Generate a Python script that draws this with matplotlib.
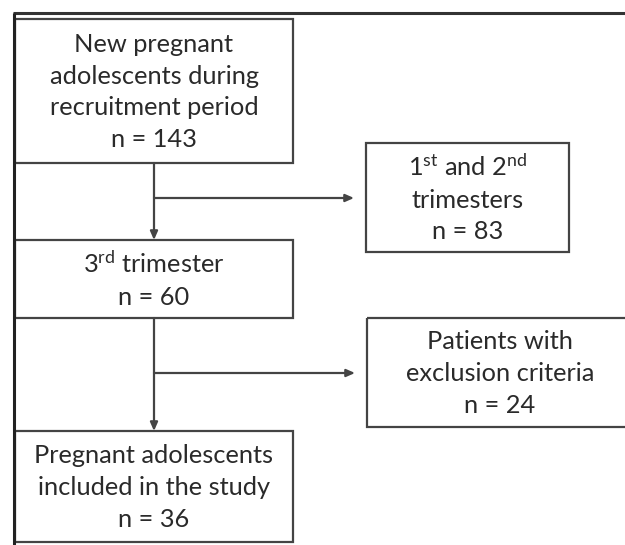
import matplotlib.pyplot as plt
from matplotlib.patches import Rectangle

plt.rcParams['font.family'] = ['Lato', 'DejaVu Sans']
plt.rcParams['mathtext.default'] = 'regular'

# flow chart content
main_labels = [
    "New pregnant\nadolescents during\nrecruitment period",
    "3$^{rd}$ trimester",
    "Pregnant adolescents\nincluded in the study",
]
main_n = [143, 60, 36]
side_labels = [
    "1$^{st}$ and 2$^{nd}$\ntrimesters",
    "Patients with\nexclusion criteria",
]
side_n = [83, 24]

# layout in pixels (x0, y0, x1, y1), y going down
main_boxes = [(15, 19, 293, 163), (15, 240, 293, 318), (15, 431, 293, 542)]
side_boxes = [(366, 143, 569, 252), (367, 318, 640, 427)]
branch_y = [198, 373]

line_col = '#444444'
text_col = '#2a2a2a'

fig = plt.figure(figsize=(6.25, 5.45), dpi=100)
ax = fig.add_axes([0, 0, 1, 1])
ax.set_xlim(0, 625)
ax.set_ylim(545, 0)
ax.axis('off')

# outer frame (top and left edge)
ax.plot([13, 625], [13, 13], color='#333333', lw=2.2, solid_capstyle='butt')
ax.plot([13.5, 13.5], [13, 545], color='#222222', lw=2.2, solid_capstyle='butt')


def box(b, text, n):
    x0, y0, x1, y1 = b
    ax.add_patch(Rectangle((x0, y0), x1 - x0, y1 - y0, fill=False,
                           ec=line_col, lw=1.6))
    ax.text((x0 + min(x1, 633)) / 2, (y0 + y1) / 2 + 1, f"{text}\nn = {n}",
            ha='center', va='center', fontsize=18.3, color=text_col,
            linespacing=1.45)


for b, t, n in zip(main_boxes, main_labels, main_n):
    box(b, t, n)
for b, t, n in zip(side_boxes, side_labels, side_n):
    box(b, t, n)

cx = (main_boxes[0][0] + main_boxes[0][2]) / 2
arrow = dict(arrowstyle='-|>,head_length=0.5,head_width=0.22', color=line_col,
             lw=1.6, shrinkA=0, shrinkB=0)
for i in range(2):
    top = main_boxes[i][3]
    bot = main_boxes[i + 1][1]
    ax.annotate('', xy=(cx, bot), xytext=(cx, top), arrowprops=arrow)
    ax.annotate('', xy=(side_boxes[i][0] - 12, branch_y[i]),
                xytext=(cx, branch_y[i]), arrowprops=arrow)

fig.savefig('out.png', dpi=100)
